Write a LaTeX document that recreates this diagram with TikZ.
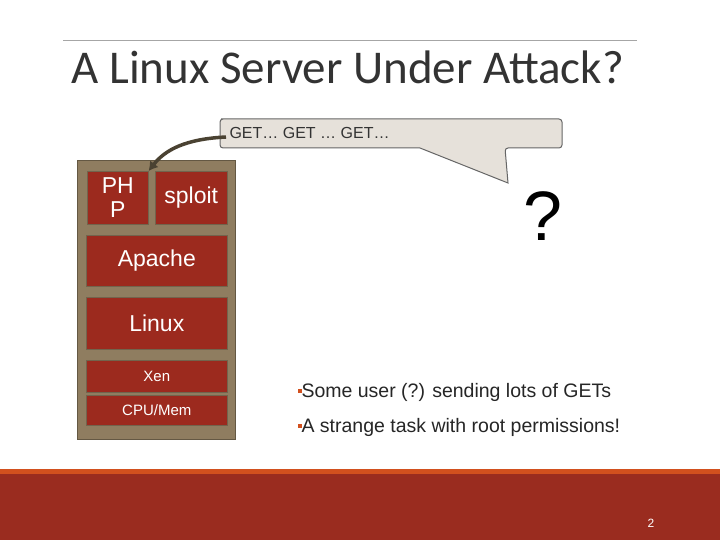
\documentclass[tikz,border=0pt]{standalone}
\usepackage{fontspec}
\usetikzlibrary{arrows.meta}
\setmainfont{Liberation Sans}
\newfontfamily\carl{Carlito}
\definecolor{brick}{HTML}{9C2A1E}
\definecolor{khaki}{HTML}{8F7D60}
\definecolor{bub}{HTML}{E6E1DA}
\definecolor{arr}{HTML}{4A4232}
\definecolor{band}{HTML}{9A2C1F}
\definecolor{orng}{HTML}{D2501E}
\begin{document}
\begin{tikzpicture}[x=1pt,y=-1pt,
 lay/.style={fill=brick,draw=khaki!80!black,line width=0.6pt,text=white,inner sep=0pt}]
\useasboundingbox (0,0) rectangle (720,540);
\fill[white] (0,0) rectangle (720,540);
\draw[gray!70,line width=0.6pt] (63,40) -- (637,40);
\node[anchor=west,font=\carl\fontsize{47}{47}\selectfont,text=black!80] (title) at (68,67) {A Linux Server Under Attack?};
% stack
\node[fill=khaki,draw=khaki!70!black,minimum width=158,minimum height=279,anchor=north west,inner sep=0] (stack) at (77,160) {};
\node[lay,minimum width=61,minimum height=53,anchor=north west,font=\fontsize{23}{24}\selectfont,align=center] (php) at (87,171) {PH\\P};
\node[lay,minimum width=72,minimum height=53,anchor=north west,font=\fontsize{23}{24}\selectfont] (sploit) at (155,171) {sploit};
\node[lay,minimum width=141,minimum height=51,anchor=north west,font=\fontsize{23}{24}\selectfont] (apache) at (86,235) {Apache};
\node[lay,minimum width=141,minimum height=52,anchor=north west,font=\fontsize{23}{24}\selectfont] (linux) at (86,297) {Linux};
\node[lay,minimum width=141,minimum height=32,anchor=north west,font=\fontsize{15}{16}\selectfont] (xen) at (86,360) {Xen};
\node[lay,minimum width=141,minimum height=30,anchor=north west,font=\fontsize{15}{16}\selectfont] (cpu) at (86,395) {CPU/Mem};
% callout
\draw[draw=gray!80!black,fill=bub,line width=1pt,rounded corners=3pt]
 (224,119) -- (562,119) -- (562,148) -- (505,148) [sharp corners]-- (508,183) -- (420,148) [rounded corners=3pt]-- (220,148) -- (220,119) -- cycle;
\node[anchor=west,font=\fontsize{16}{16}\selectfont,text=black!80] (get) at (226,133) {GET… GET … GET…};
\draw[arr,line width=3.5pt,-{Latex[length=9pt,width=11pt]}] ([yshift=-4pt]get.west) .. controls (185,139) and (165,150) .. (php.north east);
\node[font=\fontsize{70}{70}\selectfont] (q) at (543,216) {?};
\node[anchor=west,font=\fontsize{19.5}{20}\selectfont,text=black!85] (b1) at (294,392) {\textcolor{orng}{\rule[0.4ex]{4pt}{4pt}}Some user (?) sending lots of GETs};
\node[anchor=west,font=\fontsize{19.5}{20}\selectfont,text=black!85] (b2) at (294,427) {\textcolor{orng}{\rule[0.4ex]{4pt}{4pt}}A strange task with root permissions!};
% bottom band
\fill[orng] (0,469) rectangle (720,474);
\fill[band] (0,474) rectangle (720,540);
\node[text=white,font=\fontsize{12}{12}\selectfont] (pg) at (651,523) {2};
\end{tikzpicture}
\end{document}
